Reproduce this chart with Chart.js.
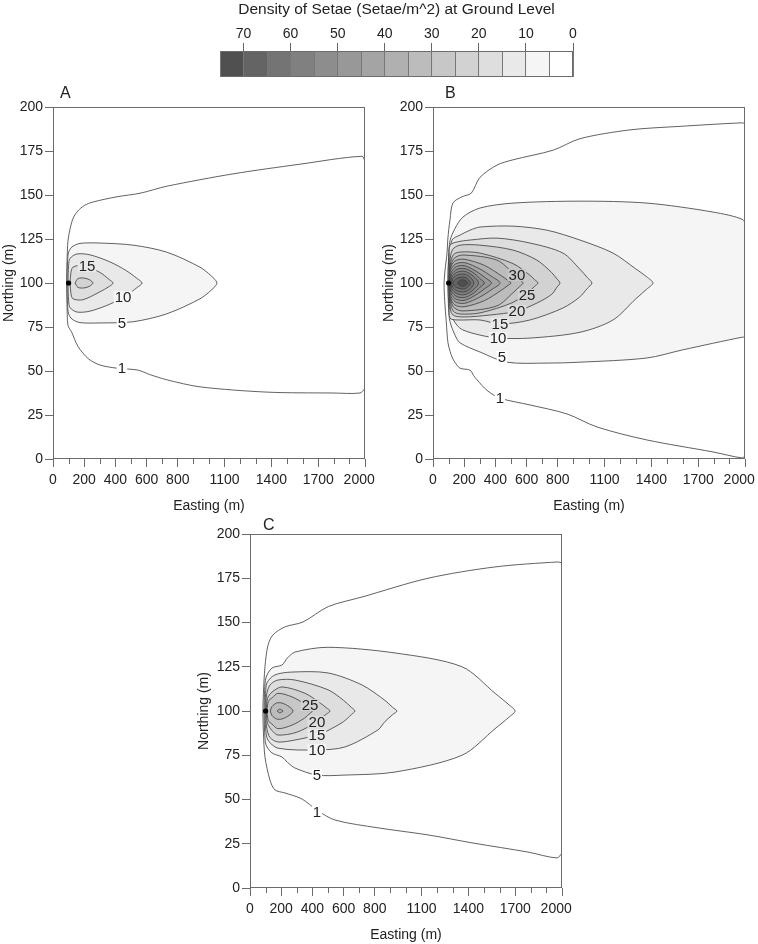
<!DOCTYPE html>
<html>
<head>
<meta charset="utf-8">
<script src="https://cdn.jsdelivr.net/npm/chart.js@4.4.0/dist/chart.umd.min.js"></script>
<style>
  body { margin: 0; background: #fff; width: 758px; height: 944px; position: relative; overflow: hidden;
         font-family: 'Liberation Sans', Arial, sans-serif; color: #222; }
  .box { position: absolute; }
  .tag { position: absolute; font-size: 16px; line-height: 16px; }
</style>
</head>
<body>
<div class="box" style="left:200px;top:0;width:400px;height:80px"><canvas id="bar"></canvas></div>
<div class="box" style="left:0;top:87px;width:380px;height:428px"><canvas id="pA"></canvas></div>
<div class="box" style="left:380px;top:87px;width:378px;height:428px"><canvas id="pB"></canvas></div>
<div class="box" style="left:195px;top:514px;width:380px;height:430px"><canvas id="pC"></canvas></div>
<div class="tag" style="left:60px;top:85px">A</div>
<div class="tag" style="left:445px;top:85px">B</div>
<div class="tag" style="left:263px;top:517px">C</div>
<script>
// ---- axis / colour bar values ----
const xMajor = [0, 200, 400, 600, 800, 1100, 1400, 1700, 2000];
const yTicks = [0, 25, 50, 75, 100, 125, 150, 175, 200];
const barEdges = [75, 70, 65, 60, 55, 50, 45, 40, 35, 30, 25, 20, 15, 10, 5, 0];
const barLabels = [70, 60, 50, 40, 30, 20, 10, 0];
const source = [100, 100];

// ---- panel A contours (Easting, Northing) ----
const a1 = [[2000,169],[1981,172],[1583,167.5],[1154,162],[730,155],[558,151],[410,149],[256,146],[200,144],[160,141],[130,137],[110,131],[96,124],[90,112],[88,100],[90,88],[96,76],[120,72],[160,64],[226,57],[301,53.4],[410,51.6],[545,50.5],[620,48],[730,45],[942,41],[1372,38],[1795,37.5],[1968,37.5],[2000,40]];
const a5 = [[90,100],[93,112],[100,117.5],[122,120.5],[173,122.5],[301,122.7],[514,121.5],[730,117.5],[942,109],[1015,104],[1051,100],[1015,96],[942,91],[730,82.5],[514,78],[301,77.3],[173,77.5],[122,79.5],[100,82.5],[93,88],[90,100]];
const a10 = [[96,100],[100,110],[109,114],[154,116.5],[237,116],[365,112],[470,107],[540,102.5],[571,100],[540,97.5],[470,93],[365,88],[237,84],[154,83.5],[109,86],[100,90],[96,100]];
const a15 = [[109,100],[115,106],[128,109],[192,110],[301,106],[360,102],[385,100],[360,98],[301,95],[192,90.5],[128,91],[115,94],[109,100]];
const a20 = [[141,100],[160,102.5],[200,102.8],[235,101.8],[256,100],[235,98.2],[200,97.2],[160,97.5],[141,100]];
const labelsA = [['15',218,109.6],['10',449,92],['5',442,77.3],['1',442,51.7]];

// ---- panel B contours ----
const b1 = [[2000,190.5],[1981,191],[1583,189],[1263,187],[942,182],[771,175.5],[513,170],[410,167],[301,160],[245,151],[186,149],[128,145.5],[109,136],[95,125],[90,117],[78,108],[71,100],[75,90],[85,78],[96,66],[110,61],[122,58],[140,55],[173,51.6],[237,50.5],[260,47.5],[282,45],[346,39],[429,34.6],[622,30.7],[859,25.6],[1051,18.2],[1372,10.8],[1795,4],[1981,0.6],[2000,1.7]];
const b5 = [[96,100],[100,115],[109,124],[141,131],[192,137.5],[301,142.6],[513,145.4],[942,146.5],[1372,145.4],[1795,140.3],[1987,136],[2000,132],[2000,69],[1987,69.3],[1600,62],[1372,57.4],[942,55],[731,54.5],[474,55],[301,60.8],[173,66],[141,70.4],[109,78],[100,85],[96,100]];
const b10 = [[96,100],[100,112],[122,124.4],[173,127.2],[237,130],[301,131.8],[513,132.3],[731,130],[942,124.4],[1154,117],[1300,108],[1370,103.5],[1410,100],[1370,96.5],[1300,91],[1154,79],[942,72],[622,68.7],[417,68.7],[301,70.4],[192,73.3],[154,76],[115,82],[100,90],[96,100]];
const b15 = [[100,100],[104,114],[109,121.5],[154,123.3],[237,124.4],[410,125.5],[622,122.7],[833,117],[940,108],[990,103],[1019,100],[990,97],[940,92],[833,85.8],[622,79],[429,76.7],[301,79],[154,79],[109,80],[104,88],[100,100]];
const b20 = [[102,100],[108,112],[125,119],[173,121.5],[301,121.5],[513,118.7],[666,113],[760,106],[795,102.3],[814,100],[795,97.7],[760,93.5],[666,88.6],[538,84],[365,81.8],[192,80.7],[125,82],[108,88],[102,100]];
const b25 = [[104,100],[110,110],[130,116],[173,117.6],[301,117],[513,111],[620,104.5],[650,102],[673,100],[650,98],[620,95.5],[513,89],[301,83],[173,82.4],[130,84],[110,90],[104,100]];
const b30 = [[106,100],[112,109],[135,114],[192,115.9],[410,113],[520,105],[555,102],[577,100],[555,98],[520,95],[410,87],[192,84.1],[135,86],[112,91],[106,100]];
const b35 = [[104,100],[110,108],[140,112.5],[200,113.5],[330,110],[440,104],[480,101.4],[500,100],[480,98.6],[440,96],[330,90],[200,86.5],[140,87.5],[110,92],[104,100]];
const b40 = [[106,100],[112,107],[145,110.8],[205,111.5],[300,108],[380,103.5],[430,100],[380,96.5],[300,92],[205,88.5],[145,89.2],[112,93],[106,100]];
const b45 = [[108,100],[116,106],[150,109.3],[205,109.8],[280,106.5],[335,103],[375,100],[335,97],[280,93.5],[205,90.2],[150,90.7],[116,94],[108,100]];
const b50 = [[110,100],[120,105],[155,107.8],[205,108.2],[265,105.5],[300,102.5],[330,100],[300,97.5],[265,94.5],[205,91.8],[155,92.2],[120,95],[110,100]];
const b55 = [[113,100],[126,104.2],[160,106.3],[205,106.6],[250,104.5],[292,100],[250,95.5],[205,93.4],[160,93.7],[126,95.8],[113,100]];
const b60 = [[117,100],[132,103.2],[165,104.8],[205,105],[240,103.2],[262,100],[240,96.8],[205,95],[165,95.2],[132,96.8],[117,100]];
const b65 = [[125,100],[145,102.3],[180,103.3],[210,103.1],[240,100],[210,96.9],[180,96.7],[145,97.7],[125,100]];
const b70 = [[158,100],[170,101.3],[195,101.8],[222,100],[195,98.2],[170,98.7],[158,100]];
const labelsB = [['30',538,104.5],['25',603,93.2],['20',538,84],['15',429,76.7],['10',417,68.7],['5',442,58],['1',429,34.6]];

// ---- panel C contours ----
const c1 = [[2000,183.6],[1974,184.2],[1571,181.4],[1141,175],[718,164.4],[502,159],[340,150.3],[224,147.5],[147,143],[115,137],[96,125],[86,110],[83,100],[86,88],[96,74],[128,61],[160,55.4],[224,53.7],[333,50.3],[429,44],[545,38.4],[820,34],[1141,30],[1430,25.4],[1782,20.3],[1968,17],[2000,19.8]];
const c5 = [[90,100],[94,112],[103,119],[141,124.3],[205,126],[240,130],[288,133.3],[500,136],[929,132.8],[1359,125],[1571,110],[1660,103.5],[1699,100],[1660,96.5],[1571,90],[1359,75],[929,65.5],[609,63.8],[429,63.8],[288,67.8],[240,71],[205,74],[141,76.3],[103,80.8],[94,88],[90,100]];
const c10 = [[96,100],[100,110],[109,116],[160,120.4],[269,122],[500,121.5],[718,114.7],[865,106],[915,102],[942,100],[915,98],[865,94],[820,89.3],[609,79.7],[429,78],[179,79],[115,83.6],[100,90],[96,100]];
const c15 = [[100,100],[106,109],[128,114.7],[179,117.5],[288,117.5],[500,112],[600,106],[650,102],[673,100],[650,98],[600,94],[500,89],[429,86.4],[288,83.6],[179,82.5],[128,85],[106,91],[100,100]];
const c20 = [[104,100],[112,107],[141,110.7],[205,113.6],[353,110],[450,104.5],[490,101.8],[513,100],[490,98.2],[450,95.5],[429,93.8],[300,88],[179,86.4],[141,89],[112,93],[104,100]];
const c25 = [[108,100],[118,105.5],[141,107.4],[179,110],[269,108],[350,104],[385,101.3],[400,100],[385,98.7],[350,96],[269,92],[179,90],[141,92.6],[118,94.5],[108,100]];
const c30 = [[130,100],[141,102.5],[170,104.5],[205,104.5],[250,102.5],[276,100],[250,97.5],[205,95.5],[170,95.5],[141,97.5],[130,100]];
const c35 = [[173,100],[190,101],[212,100],[190,99],[173,100]];
const labelsC = [['25',385,103.4],['20',429,93.8],['15',429,86.4],['10',429,78],['5',429,63.8],['1',429,43]];

// ---- styling ----
const shade = {0:255, 5:245, 10:233, 15:222, 20:210, 25:199, 30:188, 35:176, 40:164, 45:152, 50:141, 55:128, 60:116, 65:100, 70:80};
const gray = v => `rgb(${v},${v},${v})`;
const LINE = '#3a3a3a';
const AXIS = '#6b6b6b';
const TEXT = '#222';
Chart.defaults.font.family = "'Liberation Sans', Arial, sans-serif";
Chart.defaults.color = TEXT;

const xy = pts => pts.map(p => ({x: p[0], y: p[1]}));

// the last easting label sits a little left of its tick in the original
const eastLabel = v => (v === 2000 ? '2000   ' : String(v));

// box round the plot area
const frame = {
  id: 'frame',
  afterDatasetsDraw(chart) {
    const {ctx, chartArea: a} = chart;
    ctx.save();
    ctx.strokeStyle = AXIS;
    ctx.lineWidth = 1;
    ctx.strokeRect(Math.round(a.left) + 0.5, Math.round(a.top) + 0.5,
      Math.round(a.right - a.left) - 1, Math.round(a.bottom - a.top) - 1);
    ctx.restore();
  }
};

// short ticks every 100 m between the labelled ones
const minorTicks = {
  id: 'minorTicks',
  afterDraw(chart) {
    const {ctx, scales: {x}, chartArea: a} = chart;
    ctx.save();
    ctx.strokeStyle = AXIS;
    ctx.lineWidth = 1;
    ctx.beginPath();
    for (let v = 0; v <= 2000; v += 100) {
      if (xMajor.includes(v)) continue;
      const px = Math.round(x.getPixelForValue(v)) + 0.5;
      ctx.moveTo(px, a.bottom);
      ctx.lineTo(px, a.bottom + 5);
    }
    ctx.stroke();
    ctx.restore();
  }
};

// contour level labels, breaking the line underneath
const contourLabels = {
  id: 'contourLabels',
  afterDatasetsDraw(chart, args, opts) {
    const {ctx, scales: {x, y}} = chart;
    ctx.save();
    ctx.font = "15px 'Liberation Sans', Arial, sans-serif";
    ctx.textAlign = 'center';
    ctx.textBaseline = 'middle';
    for (const [t, vx, vy] of opts.items) {
      const lvl = Number(t);
      const bg = lvl <= 5 ? '#fff' : gray(shade[lvl - 5]);
      const px = x.getPixelForValue(vx), py = y.getPixelForValue(vy);
      const w = ctx.measureText(t).width;
      ctx.fillStyle = bg;
      ctx.fillRect(px - w / 2 - 1, py - 6, w + 2, 12);
      ctx.fillStyle = TEXT;
      ctx.fillText(t, px, py + 1);
    }
    ctx.restore();
  }
};

function makePanel(id, openLine, filled, labels, yWidth, padRight) {
  const datasets = [{
    data: xy([source]), showLine: false, pointRadius: 2.6,
    pointBackgroundColor: '#000', pointBorderWidth: 0
  }];
  // innermost first, so it is drawn on top
  for (let i = filled.length - 1; i >= 0; i--) {
    const [lvl, pts] = filled[i];
    datasets.push({
      data: xy(pts), fill: 'shape', backgroundColor: gray(shade[lvl]),
      borderColor: LINE, borderWidth: 0.8, pointRadius: 0, tension: 0.3
    });
  }
  datasets.push({ data: xy(openLine), fill: false, borderColor: LINE, borderWidth: 0.8, pointRadius: 0, tension: 0.3 });

  new Chart(document.getElementById(id), {
    type: 'line',
    data: { datasets },
    options: {
      responsive: true,
      maintainAspectRatio: false,
      animation: false,
      events: [],
      layout: { padding: { top: 20, right: padRight, left: 0, bottom: 0 } },
      plugins: {
        legend: { display: false },
        tooltip: { enabled: false },
        contourLabels: { items: labels }
      },
      scales: {
        x: {
          type: 'linear', min: 0, max: 2000,
          afterBuildTicks: s => { s.ticks = xMajor.map(v => ({ value: v })); },
          afterFit: s => { s.height = 56; s.paddingLeft = 0; s.paddingRight = 0; },
          ticks: { autoSkip: false, maxRotation: 0, padding: 5, color: TEXT, font: { size: 14 }, callback: eastLabel },
          grid: { drawOnChartArea: false, tickLength: 8, color: AXIS },
          border: { display: false },
          title: { display: true, text: 'Easting (m)', color: TEXT, font: { size: 14 }, padding: { top: 0, bottom: 0 } }
        },
        y: {
          type: 'linear', min: 0, max: 200,
          afterBuildTicks: s => { s.ticks = yTicks.map(v => ({ value: v })); },
          afterFit: s => { s.width = yWidth; s.paddingTop = 0; s.paddingBottom = 0; },
          ticks: { padding: 2, color: TEXT, font: { size: 14 }, callback: v => String(v) },
          grid: { drawOnChartArea: false, tickLength: 8, color: AXIS },
          border: { display: false },
          title: { display: true, text: 'Northing (m)', color: TEXT, font: { size: 14 }, padding: { top: 1, bottom: 0 } }
        }
      }
    },
    plugins: [frame, minorTicks, contourLabels]
  });
}

makePanel('pA', a1, [[5,a5],[10,a10],[15,a15],[20,a20]], labelsA, 53, 15);
makePanel('pB', b1, [[5,b5],[10,b10],[15,b15],[20,b20],[25,b25],[30,b30],[35,b35],[40,b40],[45,b45],[50,b50],[55,b55],[60,b60],[65,b65],[70,b70]], labelsB, 53, 13);
makePanel('pC', c1, [[5,c5],[10,c10],[15,c15],[20,c20],[25,c25],[30,c30],[35,c35]], labelsC, 55, 13);

// ---- colour bar ----
const barSets = [];
for (let i = 0; i < barEdges.length - 1; i++) {
  const lo = barEdges[i + 1], hi = barEdges[i];
  barSets.push({
    data: [[lo, hi]], backgroundColor: gray(shade[lo]), borderWidth: 0,
    barPercentage: 1, categoryPercentage: 1, grouped: false
  });
}
new Chart(document.getElementById('bar'), {
  type: 'bar',
  data: { labels: ['d'], datasets: barSets },
  options: {
    indexAxis: 'y',
    responsive: true,
    maintainAspectRatio: false,
    animation: false,
    events: [],
    layout: { padding: { top: 0, right: 27, left: 20, bottom: 3 } },
    plugins: {
      legend: { display: false },
      tooltip: { enabled: false },
      title: {
        display: true, text: 'Density of Setae (Setae/m^2) at Ground Level',
        color: TEXT, font: { size: 15.5, weight: 'normal' }, padding: { top: 0, bottom: 0 }
      }
    },
    scales: {
      x: {
        type: 'linear', position: 'top', reverse: true, min: 0, max: 75,
        afterBuildTicks: s => { s.ticks = barEdges.map(v => ({ value: v })); },
        afterFit: s => { s.height = 32.4; s.paddingLeft = 0; s.paddingRight = 0; },
        ticks: { autoSkip: false, maxRotation: 0, padding: 0, color: TEXT, font: { size: 14 },
                 callback: v => (barLabels.includes(v) ? String(v) : '') },
        grid: { z: 1, color: '#777', tickLength: 8,
                tickColor: c => (c.tick && barLabels.includes(c.tick.value) ? '#666' : 'rgba(0,0,0,0)') },
        border: { display: false }
      },
      y: { display: false }
    }
  },
  plugins: [frame]
});
</script>
</body>
</html>
